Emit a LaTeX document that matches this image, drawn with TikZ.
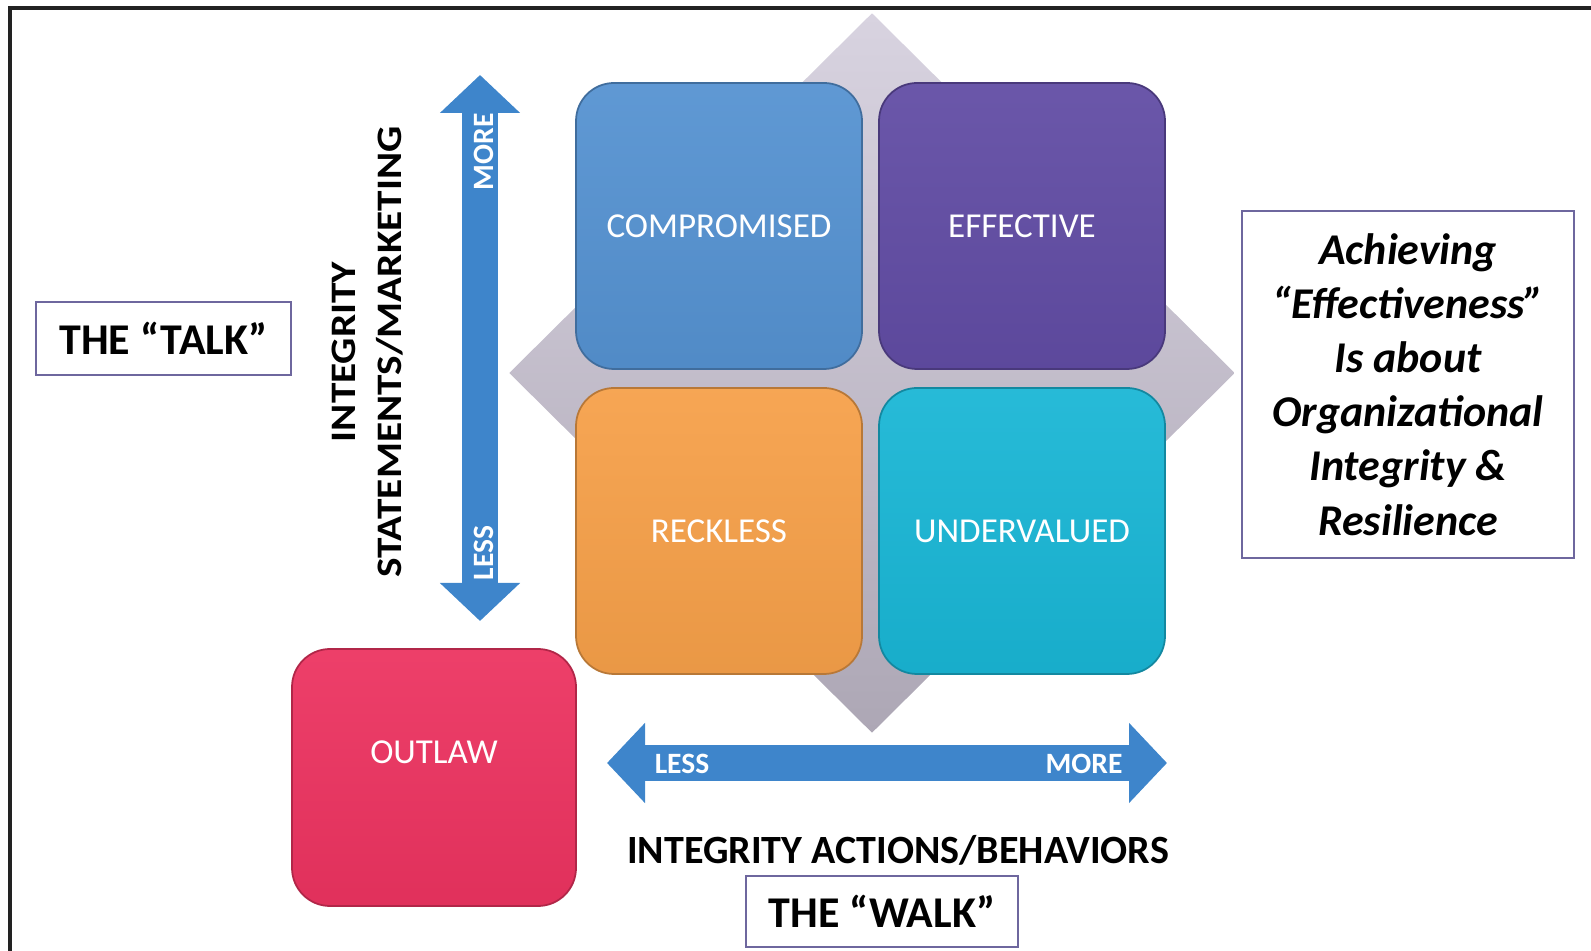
\documentclass[tikz,border=0pt]{standalone}
\usepackage{fontspec}
\setmainfont{Carlito}
\newfontfamily\widefont[FakeStretch=1.15]{Carlito}
\usepackage{tikz}
\usetikzlibrary{arrows.meta, positioning, shapes.geometric}

\definecolor{quadblue}{HTML}{5592D1}
\definecolor{quadpurple}{HTML}{614CA4}
\definecolor{quadorange}{HTML}{F6A049}
\definecolor{quadcyan}{HTML}{19B6D5}
\definecolor{quadred}{HTML}{EC3360}
\definecolor{axisblue}{HTML}{3E85CB}
\definecolor{boxline}{HTML}{6E679E}
\definecolor{framegray}{HTML}{222222}
\definecolor{backtop}{HTML}{D8D3E0}
\definecolor{backbottom}{HTML}{ADA7B5}

\begin{document}
\begin{tikzpicture}[
        quadrant/.style={rectangle, rounded corners=0.38cm, minimum width=2.86cm, minimum height=2.86cm, inner sep=0pt,
            top color=#1!94!white, bottom color=#1!95!black, draw=#1!75!black, line width=0.5pt,
            text=white, font=\fontsize{9.96}{12}\selectfont},
        label_box/.style={rectangle, draw=boxline, line width=0.6pt, fill=white, align=center, inner sep=0pt},
        axis_arrow/.style={axisblue, line width=0.36cm, {Triangle[length=0.38cm, width=0.78cm]}-{Triangle[length=0.38cm, width=0.78cm]}},
        axis_word/.style={text=white, font=\bfseries\fontsize{8.4}{10}\selectfont, inner sep=0pt},
        axis_title/.style={font=\bfseries\fontsize{11.4}{13}\selectfont, inner sep=0pt}
    ]
    \useasboundingbox (0,0) rectangle (15.91,-9.51);

    % outer frame
    \draw[framegray, line width=1.15pt] (0.10,-9.70) -- (0.10,-0.08) -- (16.10,-0.08);

    % background diamond
    \node[diamond, minimum width=7.26cm, minimum height=7.20cm, inner sep=0pt,
        top color=backtop, bottom color=backbottom] (back) at (8.72,-3.73) {};

    % the four quadrants and the outlaw
    \node[quadrant=quadblue] (comp) at (7.19,-2.26) {COMPROMISED};
    \node[quadrant=quadpurple] (eff) at (10.22,-2.26) {EFFECTIVE};
    \node[quadrant=quadorange] (reck) at (7.19,-5.31) {RECKLESS};
    \node[quadrant=quadcyan] (under) at (10.22,-5.31) {UNDERVALUED};
    \node[quadrant=quadred, minimum width=2.84cm, minimum height=2.57cm] (outlaw) at (4.34,-7.775) {};
    \node[text=white, font=\fontsize{9.96}{12}\selectfont] (outlawlbl) at (4.34,-7.52) {OUTLAW};

    % vertical axis
    \coordinate (vtop) at (4.80,-0.75);
    \coordinate (vbot) at (4.80,-6.21);
    \draw[axis_arrow] (vbot) -- (vtop);
    \node[axis_word, rotate=90] (vmore) at (4.84,-1.52) {MORE};
    \node[axis_word, rotate=90] (vless) at (4.84,-5.53) {LESS};
    \node[rotate=90, align=center, inner sep=0pt, font=\widefont\bfseries\fontsize{10.2}{13.1}\selectfont] (vtitle) at (3.68,-3.52)
        {INTEGRITY\\STATEMENTS/MARKETING};

    % horizontal axis
    \coordinate (hleft) at (6.07,-7.63);
    \coordinate (hright) at (11.67,-7.63);
    \draw[axis_arrow] (hleft) -- (hright);
    \node[axis_word] (hless) at (6.82,-7.64) {LESS};
    \node[axis_word] (hmore) at (10.84,-7.64) {MORE};
    \node[axis_title] (htitle) at (8.98,-8.50) {INTEGRITY ACTIONS/BEHAVIORS};

    % talk, walk and summary boxes
    \node[label_box, minimum width=2.55cm, minimum height=0.73cm, font=\bfseries\fontsize{12.5}{14}\selectfont] (talk) at (1.635,-3.385) {THE “TALK”};
    \node[label_box, minimum width=2.72cm, minimum height=0.71cm, font=\bfseries\fontsize{12.5}{14}\selectfont] (walk) at (8.82,-9.115) {THE “WALK”};
    \node[label_box, minimum width=3.32cm, minimum height=3.47cm, font=\bfseries\itshape\fontsize{12.5}{15.4}\selectfont] (summary) at (14.08,-3.845)
        {Achieving\\“Effectiveness”\\Is about\\Organizational\\Integrity \&\\Resilience};
\end{tikzpicture}
\end{document}
